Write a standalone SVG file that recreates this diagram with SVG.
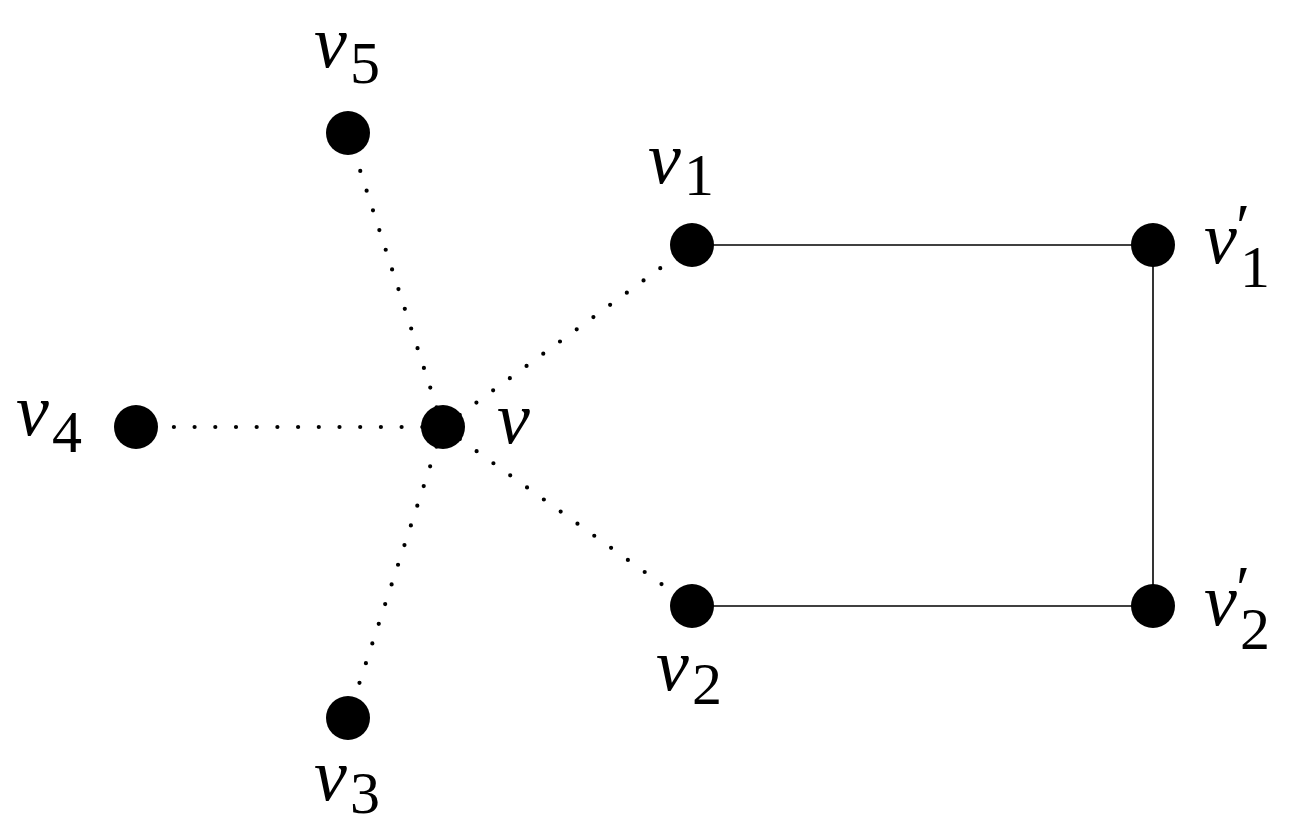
<svg xmlns="http://www.w3.org/2000/svg" width="1290" height="840" viewBox="0 0 1290 840">
<style>
.solid{stroke:#000;stroke-width:1.6;fill:none}
.dot{stroke:#000;stroke-width:4.2;stroke-linecap:round;stroke-dasharray:0 20.7;fill:none}
.node{fill:#000}
.lbl{font-family:"Liberation Serif",serif;font-size:74px;font-style:italic;fill:#000}
.sub{font-style:normal;font-size:60px}
.pr{font-style:normal;font-size:64px}
</style>
<rect width="1290" height="840" fill="#fff"/>
<g id="connectors">
<line class="solid" x1="692" y1="245" x2="1153" y2="245"/>
<line class="solid" x1="1153" y1="245" x2="1153" y2="606"/>
<line class="solid" x1="692" y1="606" x2="1153" y2="606"/>
<line class="dot" x1="443" y1="427" x2="692" y2="245"/>
<line class="dot" x1="443" y1="427" x2="692" y2="606"/>
<line class="dot" x1="443" y1="427" x2="348" y2="718"/>
<line class="dot" x1="443" y1="427" x2="136" y2="427"/>
<line class="dot" x1="443" y1="427" x2="348" y2="133"/>
</g>
<g id="v"><circle class="node" cx="443" cy="427" r="22"/><text class="lbl" x="497" y="443">v</text></g>
<g id="v1"><circle class="node" cx="692" cy="245" r="22"/><text class="lbl" x="648" y="183">v<tspan class="sub" x="684" dy="12">1</tspan></text></g>
<g id="v2"><circle class="node" cx="692" cy="606" r="22"/><text class="lbl" x="656" y="690">v<tspan class="sub" x="692" dy="14">2</tspan></text></g>
<g id="v3"><circle class="node" cx="348" cy="718" r="22"/><text class="lbl" x="314" y="800">v<tspan class="sub" x="350" dy="13">3</tspan></text></g>
<g id="v4"><circle class="node" cx="136" cy="427" r="22"/><text class="lbl" x="16" y="435">v<tspan class="sub" x="52" dy="17">4</tspan></text></g>
<g id="v5"><circle class="node" cx="348" cy="133" r="22"/><text class="lbl" x="314" y="67">v<tspan class="sub" x="350" dy="16">5</tspan></text></g>
<g id="v1p"><circle class="node" cx="1153" cy="245" r="22"/><text class="lbl" x="1204" y="263">v<tspan class="pr" x="1236" y="248">′</tspan><tspan class="sub" x="1240" y="287">1</tspan></text></g>
<g id="v2p"><circle class="node" cx="1153" cy="606" r="22"/><text class="lbl" x="1204" y="625">v<tspan class="pr" x="1236" y="610">′</tspan><tspan class="sub" x="1240" y="649">2</tspan></text></g>
</svg>
